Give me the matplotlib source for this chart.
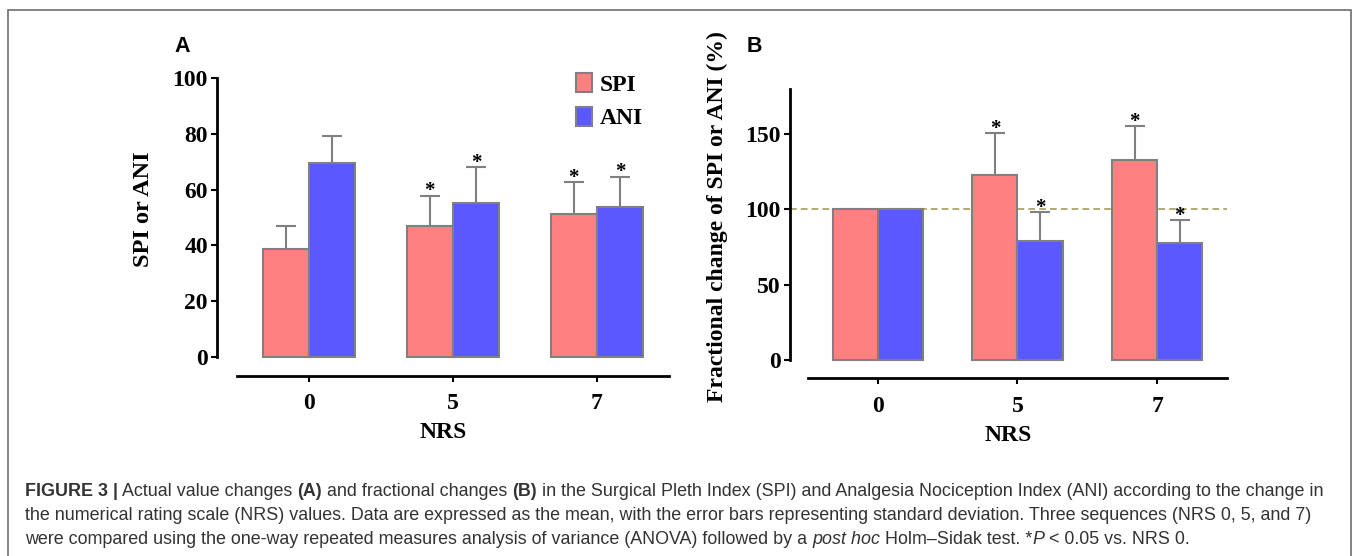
import numpy as np
from matplotlib import pyplot as plt
from matplotlib.patches import Patch, Rectangle

# values
nrs = ['0', '5', '7']

spi = [38.7, 46.8, 51.1]
spi_sd = [8.3, 11.0, 11.6]
ani = [69.6, 55.1, 53.7]
ani_sd = [9.6, 13.1, 11.0]
stars_a_spi = [False, True, True]
stars_a_ani = [False, True, True]

spi_pct = [100, 123, 132.7]
spi_pct_sd = [0, 27.9, 22.5]
ani_pct = [100, 79.1, 77.5]
ani_pct_sd = [0, 19.0, 15.3]
stars_b_spi = [False, True, True]
stars_b_ani = [False, True, True]

col_spi = '#ff8080'
col_ani = '#5959ff'
col_edge = '#808080'
serif = 'Liberation Serif'

W, H = 1358, 556
fig = plt.figure(figsize=(W / 100, H / 100), dpi=100)


def px_axes(left, top, right, bottom):
    return fig.add_axes([left / W, 1 - bottom / H, (right - left) / W, (bottom - top) / H])


def draw_panel(ax, m1, s1, st1, m2, s2, st2, width, ymax, yticks, ylo, xlo):
    x = np.arange(len(nrs))
    ax.bar(x - width / 2, m1, width, color=col_spi, edgecolor=col_edge, linewidth=1.5, zorder=2)
    ax.bar(x + width / 2, m2, width, color=col_ani, edgecolor=col_edge, linewidth=1.5, zorder=2)
    for pos, m, s, st in [(x - width / 2, m1, s1, st1), (x + width / 2, m2, s2, st2)]:
        eb = ax.errorbar(pos, m, yerr=[np.zeros(len(s)), s], fmt='none', ecolor=col_edge,
                         elinewidth=1.5, capsize=7, capthick=1.5, zorder=1)
        eb[1][0].set_visible(False)
        for i in range(len(pos)):
            if st[i]:
                ax.annotate('*', xy=(pos[i], m[i] + s[i]), xytext=(0, -0.5), textcoords='offset points',
                            ha='center', va='baseline', fontsize=15, fontweight='bold', family=serif)
    ax.set_xlim(xlo, 2.5)
    ax.set_ylim(ylo, ymax)
    for sp in ['top', 'right']:
        ax.spines[sp].set_visible(False)
    ax.spines['left'].set_bounds(0, ymax)
    ax.spines['bottom'].set_bounds(-0.5, 2.5)
    for sp in ['left', 'bottom']:
        ax.spines[sp].set_linewidth(2)
    ax.set_xticks(x)
    ax.set_xticklabels(nrs)
    ax.set_yticks(yticks)
    ax.tick_params(axis='y', length=4, width=1.5, pad=2.5)
    ax.tick_params(axis='x', length=4.5, width=1.5, pad=8)
    for lab in ax.get_xticklabels() + ax.get_yticklabels():
        lab.set_family(serif)
        lab.set_fontweight('bold')
        lab.set_fontsize(17)
    ax.set_xlabel('NRS', family=serif, fontweight='bold', fontsize=17, labelpad=6)
    ax.patch.set_alpha(0)


# panel A
ax_a = px_axes(217, 78.3, 669, 375.7)
draw_panel(ax_a, spi, spi_sd, stars_a_spi, ani, ani_sd, stars_a_ani, 0.322, 100,
           [0, 20, 40, 60, 80, 100], -6.82, -0.5 - 20 / 144)

# panel B
ax_b = px_axes(789.6, 89, 1227, 378.3)
draw_panel(ax_b, spi_pct, spi_pct_sd, stars_b_spi, ani_pct, ani_pct_sd, stars_b_ani, 0.323, 180,
           [0, 50, 100, 150], -12.16, -0.5 - 18.4 / 139.7)
ax_b.plot([ax_b.get_xlim()[0], 2.5], [100, 100], color='#a89b5c', linewidth=1.2,
          linestyle=(0, (4, 2.5)), zorder=0, clip_on=False)

fig.text(143.5 / W, 1 - 209 / H, 'SPI or ANI', rotation=90, ha='center', va='center',
         family=serif, fontweight='bold', fontsize=17.5)
fig.text(717 / W, 1 - 217 / H, 'Fractional change of SPI or ANI (%)', rotation=90, ha='center',
         va='center', family=serif, fontweight='bold', fontsize=17)

fig.text(174 / W, 1 - 52 / H, 'A', family='Liberation Sans', fontweight='bold', fontsize=15.5,
         ha='left', va='baseline')
fig.text(747 / W, 1 - 52 / H, 'B', family='Liberation Sans', fontweight='bold', fontsize=15.5,
         ha='left', va='baseline')

fig.legend(handles=[Patch(facecolor=col_spi, edgecolor=col_edge, linewidth=1.5, label='SPI'),
                    Patch(facecolor=col_ani, edgecolor=col_edge, linewidth=1.5, label='ANI')],
           loc='upper left', bbox_to_anchor=(564 / W, 1 - 61 / H), frameon=False, borderpad=0,
           handlelength=0.68, handleheight=0.87, handletextpad=0.34, labelspacing=0.47,
           prop={'family': serif, 'weight': 'bold', 'size': 17})

# outer frame
fig.patches.append(Rectangle((8 / W, -0.1), (1351 - 8) / W, 1.1 - 10 / H, transform=fig.transFigure,
                             fill=False, edgecolor='#6e6e6e', linewidth=1.2))

# caption, pieces chained one after the other
caption = [
    [('FIGURE 3 |', 'bold', 'normal'), (' Actual value changes ', 'normal', 'normal'), ('(A)', 'bold', 'normal'),
     (' and fractional changes ', 'normal', 'normal'), ('(B)', 'bold', 'normal'),
     (' in the Surgical Pleth Index (SPI) and Analgesia Nociception Index (ANI) according to the change in',
      'normal', 'normal')],
    [('the numerical rating scale (NRS) values. Data are expressed as the mean, with the error bars '
      'representing standard deviation. Three sequences (NRS 0, 5, and 7)', 'normal', 'normal')],
    [('were compared using the one-way repeated measures analysis of variance (ANOVA) followed by a ',
      'normal', 'normal'), ('post hoc', 'normal', 'italic'), (' Holm–Sidak test. *', 'normal', 'normal'),
     ('P', 'normal', 'italic'), (' < 0.05 vs. NRS 0.', 'normal', 'normal')],
]
baselines = [496, 520, 544]
for line, yb in zip(caption, baselines):
    prev = None
    for txt, wt, st in line:
        kw = dict(family='Liberation Sans', fontsize=12.9, fontweight=wt, fontstyle=st, color='#333333')
        if prev is None:
            prev = fig.text(25 / W, 1 - yb / H, txt, ha='left', va='baseline', **kw)
        else:
            prev = ax_a.annotate(txt, xy=(1, 0), xycoords=prev, ha='left', va='bottom',
                                 annotation_clip=False, **kw)

plt.savefig('out.png', dpi=100)
